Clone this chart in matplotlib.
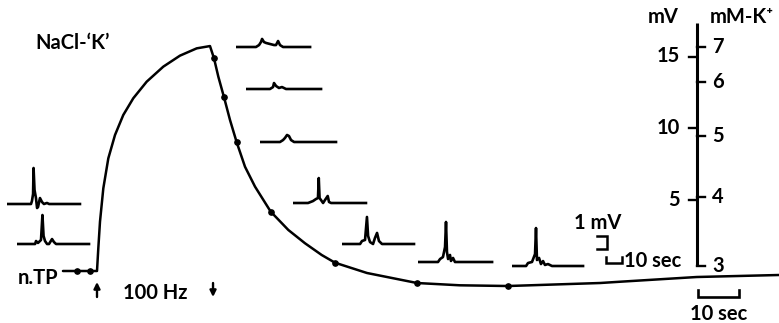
import matplotlib
matplotlib.use("Agg")
import matplotlib.pyplot as plt

W, H, DPI = 779, 323, 100

# ---------------- data ----------------
# main record: time (s, from onset of 100 Hz stimulation) vs potential (mV)
t_curve = [-8.3, -4.9, -1.7, 0.0, 0.32, 0.73, 1.54, 2.76, 4.39, 6.41, 8.85, 12.12,
           16.17, 20.24, 24.32, 27.56, 28.54, 29.59, 30.98, 32.44, 34.07, 36.1,
           38.54, 42.37, 46.66, 50.73, 54.8, 58.05, 65.85, 78.05, 88.5, 100.24,
           122.7, 127.6, 146.3, 166.3]
v_curve = [0.0, 0.0, 0.0, 0.0, 1.59, 3.45, 5.78, 7.88, 9.51, 10.91, 12.08, 13.24,
           14.29, 15.06, 15.57, 15.73, 14.87, 13.59, 12.15, 10.56, 9.0, 7.29,
           5.9, 4.15, 2.87, 1.94, 1.12, 0.58, -0.14, -0.84, -1.0, -1.05,
           -0.84, -0.75, -0.42, -0.28]
# sample points (dots)
t_dots = [-4.9, -1.7, 28.54, 30.98, 34.07, 42.37, 58.05, 78.05, 100.24]
v_dots = [0.0, 0.0, 14.87, 12.15, 9.0, 4.15, 0.58, -0.84, -1.05]

stim_on, stim_off = 0.0, 28.3

mv_ticks = [5, 10, 15]
k_ticks = [3, 4, 5, 6, 7]
k_ticks_mv = [0.35, 5.17, 9.44, 13.22, 15.66]   # mV equivalent of mM-K+
axis_top_mv = 17.34

# inset records (s, mV relative to record baseline)
traces = [
    ([0, 15, 15.6, 16.3, 16.6, 17.2, 18.1, 18.8, 19.4, 20.6, 21.9, 23.1, 25, 26.3, 45.6],
     [0, 0, 0.23, 0.77, 2.77, 1.08, 0.46, -0.31, -0.23, 0.46, 0.15, 0, 0.08, 0, 0]),
    ([0, 11.3, 11.9, 13.1, 15, 15.9, 16.6, 17.5, 18.8, 20, 21.9, 23.1, 24.4, 45],
     [0, 0, 0.23, 0.08, 0.31, 2.23, 0.62, 0.23, 0, 0, 0.38, 0.15, 0, 0]),
    ([0, 12.5, 14.4, 15.6, 16.3, 17.5, 18.8, 21.3, 23.8, 25, 26.3, 27.5, 29.4, 46.3],
     [0, 0, 0.15, 0.38, 0.62, 0.38, 0.31, 0.23, 0.15, 0.15, 0.46, 0.15, 0, 0]),
    ([0, 15, 16.9, 17.5, 18.8, 20.6, 22.5, 25, 46.9],
     [0, 0, 0.15, 0.46, 0.23, 0.08, 0.15, 0, 0]),
    ([0, 12.5, 14.4, 15.6, 16.9, 18.1, 19.4, 21.3, 47.5],
     [0, 0, 0.15, 0.31, 0.54, 0.46, 0.15, 0, 0]),
    ([0, 9.4, 12.5, 14.4, 15.6, 16.1, 16.6, 17.5, 18.8, 20, 21.7, 22.5, 23.8, 45.6],
     [0, 0, 0.15, 0.31, 0.38, 1.92, 0.38, 0.23, 0, 0.23, 0.54, 0.08, 0, 0]),
    ([0, 11.3, 12.5, 14.4, 15.6, 16.3, 17.5, 19.4, 20.6, 21.9, 23.1, 25, 45],
     [0, 0, 0.23, 0.31, 2.08, 0.62, 0.15, 0, 0.46, 0.85, 0.23, 0, 0]),
    ([0, 12.5, 13.8, 15.6, 16.9, 17.5, 18.1, 18.8, 20, 20.6, 21.9, 23.1, 25, 46.3],
     [0, 0, 0.23, 0.38, 1.15, 3.08, 0.77, 0.23, 0.54, 0.08, 0.31, 0, 0, 0]),
    ([0, 8.8, 10, 12.5, 14.4, 15, 15.6, 16.9, 18.1, 19.4, 20.6, 22.5, 25, 44.4],
     [0, 0, 0.23, 0.31, 0.92, 2.92, 0.46, 0.62, 0.15, 0.38, 0.08, 0.15, 0, 0]),
]
# layout of inset records (pixel position of start of baseline)
trace_pos = [(7, 204), (17, 244), (236, 47), (246, 89), (260, 142),
             (293, 203), (342, 244), (418, 262), (512, 266)]

# ---------------- style ----------------
plt.rcParams["font.family"] = ["Lato", "DejaVu Sans"]
plt.rcParams["font.weight"] = "bold"
FS = 14.5
K = "black"

fig = plt.figure(figsize=(W / DPI, H / DPI), dpi=DPI)
fig.patch.set_facecolor("white")

# main axes: px = 97 + 4.1 t ; py = 271 - 14.3 v
XS, X0, YS, Y0 = 4.1, 97.0, 14.3, 271.0
ax = fig.add_axes([0, 0, 1, 1])
ax.set_xlim(-X0 / XS, (W - X0) / XS)
ax.set_ylim((Y0 - H) / YS, Y0 / YS)
ax.axis("off")

ax.plot(t_curve, v_curve, color=K, lw=1.8, solid_joinstyle="round", solid_capstyle="round")
ax.plot(t_dots, v_dots, "o", color=K, ms=3.8)

# vertical calibration axis
AX_T = 146.34
tk = 8 / XS
ax.plot([AX_T, AX_T], [k_ticks_mv[0], axis_top_mv], color=K, lw=2.2, solid_capstyle="butt")
for v in mv_ticks:
    ax.plot([AX_T - tk, AX_T], [v, v], color=K, lw=1.7)
    ax.text(AX_T - tk - 2.3, v, str(v), ha="right", va="center", fontsize=FS)
for k, v in zip(k_ticks, k_ticks_mv):
    ax.plot([AX_T, AX_T + tk], [v, v], color=K, lw=1.7)
    ax.text(AX_T + tk + 1.8, v, str(k), ha="left", va="center", fontsize=FS)
ax.text(138.0, 17.75, "mV", ha="center", va="center", fontsize=FS)
ax.text(157.2, 17.75, "mM-K\u207a", ha="center", va="center", fontsize=FS)

# 10 sec bar for main record
sb_y, sb_h = (Y0 - 297) / YS, 7 / YS
ax.plot([146.6, 146.6, 156.6, 156.6], [sb_y + sb_h, sb_y, sb_y, sb_y + sb_h],
        color=K, lw=1.9, solid_joinstyle="miter")
ax.text(151.6, (Y0 - 314) / YS, "10 sec", ha="center", va="center", fontsize=FS)

# stimulation arrows
ax.annotate("", xy=(stim_on, (Y0 - 282) / YS), xytext=(stim_on, (Y0 - 297) / YS),
            arrowprops=dict(arrowstyle="-|>", color=K, lw=1.7, mutation_scale=9,
                            shrinkA=0, shrinkB=0))
ax.annotate("", xy=(stim_off, (Y0 - 297) / YS), xytext=(stim_off, (Y0 - 283) / YS),
            arrowprops=dict(arrowstyle="-|>", color=K, lw=1.7, mutation_scale=9,
                            shrinkA=0, shrinkB=0))

# pixel overlay for labels
px = fig.add_axes([0, 0, 1, 1])
px.set_xlim(0, W)
px.set_ylim(H, 0)
px.axis("off")
px.patch.set_alpha(0)
px.text(35, 43, "NaCl-\u2018K\u2019", ha="left", va="center", fontsize=FS)
px.text(58, 278, "n.TP", ha="right", va="center", fontsize=FS)
px.text(123, 293, "100 Hz", ha="left", va="center", fontsize=FS)
px.text(598, 223, "1 mV", ha="center", va="center", fontsize=FS)
px.text(624, 261, "10 sec", ha="left", va="center", fontsize=FS)

# inset records: 1 mV = 13 px, 10 s = 16 px
IXS, IYS = 1.6, 13.0
IW, IUP, IDN = 82, 45, 10
for (tt, vv), (x0, y0) in zip(traces, trace_pos):
    ia = fig.add_axes([x0 / W, (H - (y0 + IDN)) / H, IW / W, (IUP + IDN) / H])
    ia.set_xlim(0, IW / IXS)
    ia.set_ylim(-IDN / IYS, IUP / IYS)
    ia.axis("off")
    ia.patch.set_alpha(0)
    ia.plot(tt, vv, color=K, lw=1.9, solid_joinstyle="round")

# calibration for inset records
ca = fig.add_axes([590 / W, (H - 270) / H, 40 / W, 50 / H])
ca.set_xlim(0, 40 / IXS)
ca.set_ylim(-(270 - 263) / IYS, (263 - 220) / IYS)
ca.axis("off")
ca.patch.set_alpha(0)
ca.plot([10, 10, 20, 20], [0.45, 0, 0, 0.45], color=K, lw=1.8, solid_joinstyle="miter")
ca.plot([4.4, 10.6, 10.6, 4.4], [2.08, 2.08, 1.08, 1.08], color=K, lw=1.8,
        solid_joinstyle="miter")

fig.savefig("out.png", dpi=DPI, facecolor="white")
